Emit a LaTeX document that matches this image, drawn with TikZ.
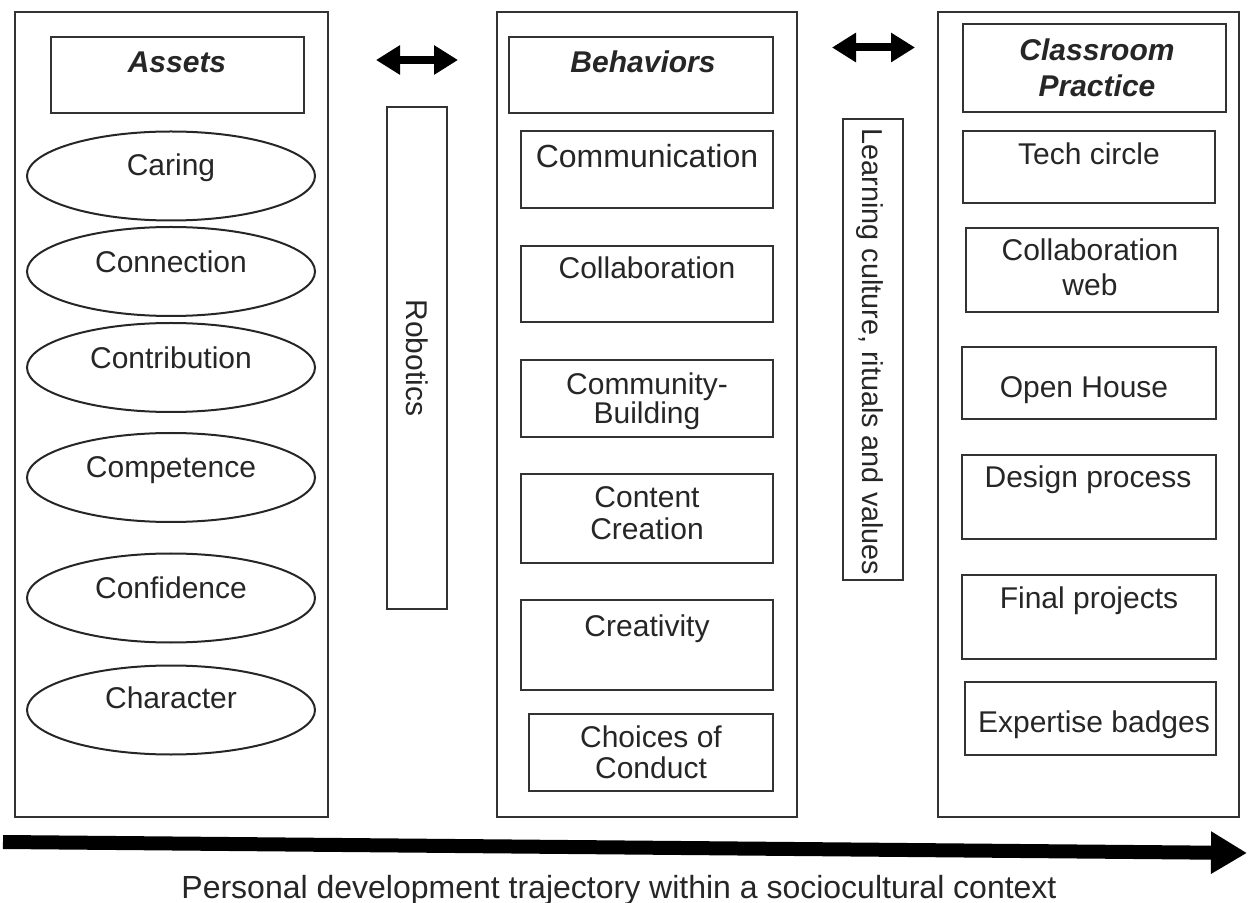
\documentclass[tikz,border=0pt]{standalone}
\usepackage{fontspec}
\setmainfont{Liberation Sans}
\usetikzlibrary{fit,shapes.geometric,arrows.meta}
\tikzset{
  bx/.style={draw=black!80, line width=1.1pt, inner sep=0pt},
  ell/.style={ellipse, draw=black!85, line width=1pt, minimum width=144pt, minimum height=44.5pt, inner sep=0pt},
  tx/.style={font=\fontsize{15}{18}\selectfont, text height=10.7pt, text depth=0pt, inner sep=0pt, text=black!85},
  ttl/.style={font=\fontsize{15}{18}\selectfont\bfseries\itshape, text height=10.7pt, text depth=0pt, inner sep=0pt, text=black!85},
  dbl/.style={line width=4pt, draw=black, {Triangle[length=12pt,width=14pt]}-{Triangle[length=12pt,width=14pt]}},
  bigarrow/.style={line width=7pt, draw=black, -{Triangle[length=18pt,width=20pt]}}
}
\begin{document}
\begin{tikzpicture}[x=0.5pt,y=-0.5pt]
\useasboundingbox (0,0) rectangle (1248,903);
% panels
\node[bx, fit={(15,12) (328,817)}] (P1) {};
\node[bx, fit={(497,12) (797,817)}] (P2) {};
\node[bx, fit={(938,12) (1239,817)}] (P3) {};
% titles
\node[bx, fit={(51,37) (304,113)}] (T1) {};
\node[ttl] at (177,62) {Assets};
\node[bx, fit={(509,37) (773,113)}] (T2) {};
\node[ttl] at (643,62) {Behaviors};
\node[bx, fit={(963,24) (1226,112)}] (T3) {};
\node[ttl] at (1097,50) {Classroom};
\node[ttl] at (1097,86) {Practice};
% assets ellipses
\node[ell] (E1) at (171,176) {};
\node[tx] at (171,165) {Caring};
\node[ell] (E2) at (171,271.5) {};
\node[tx] at (171,262) {Connection};
\node[ell] (E3) at (171,367.5) {};
\node[tx] at (171,358) {Contribution};
\node[ell] (E4) at (171,477.5) {};
\node[tx] at (171,467) {Competence};
\node[ell] (E5) at (171,598) {};
\node[tx] at (171,588) {Confidence};
\node[ell] (E6) at (171,710) {};
\node[tx] at (171,698) {Character};
% robotics
\node[bx, fit={(387,107) (447,609)}] (R) {};
\node[tx, rotate=-90] at (417,358) {Robotics};
% behaviors
\node[bx, fit={(521,131) (773,208)}] (B1) {};
\node[tx, font=\fontsize{16}{19}\selectfont, text height=11.4pt] at (647,156) {Communication};
\node[bx, fit={(521,246) (773,322)}] (B2) {};
\node[tx] at (647,268) {Collaboration};
\node[bx, fit={(521,360) (773,437)}] (B3) {};
\node[tx] at (647,384) {Community-};
\node[tx] at (647,413) {Building};
\node[bx, fit={(521,474) (773,563)}] (B4) {};
\node[tx] at (647,497) {Content};
\node[tx] at (647,529) {Creation};
\node[bx, fit={(521,600) (773,690)}] (B5) {};
\node[tx] at (647,626) {Creativity};
\node[bx, fit={(529,714) (773,791)}] (B6) {};
\node[tx] at (651,737) {Choices of};
\node[tx] at (651,768) {Conduct};
% learning culture
\node[bx, fit={(843,119) (903,580)}] (L) {};
\node[tx, font=\fontsize{14.4}{17}\selectfont, text height=10.3pt, rotate=-90] at (873,352) {Learning culture, rituals and values};
% classroom practice
\node[bx, fit={(963,131) (1215,203)}] (C1) {};
\node[tx] at (1089,154) {Tech circle};
\node[bx, fit={(966,228) (1218,312)}] (C2) {};
\node[tx] at (1090,250) {Collaboration};
\node[tx] at (1090,285) {web};
\node[bx, fit={(962,347) (1216,419)}] (C3) {};
\node[tx] at (1084,387) {Open House};
\node[bx, fit={(962,455) (1216,539)}] (C4) {};
\node[tx] at (1088,477) {Design process};
\node[bx, fit={(962,575) (1216,659)}] (C5) {};
\node[tx] at (1089,598) {Final projects};
\node[bx, fit={(965,682) (1216,755)}] (C6) {};
\node[tx] at (1094,722) {Expertise badges};
% double arrows
\coordinate (a1l) at (376,60);
\coordinate (a1r) at (458,60);
\draw[dbl] (a1l) -- (a1r);
\coordinate (a2l) at (832,47.5);
\coordinate (a2r) at (915,47.5);
\draw[dbl] (a2l) -- (a2r);
% bottom arrow
\coordinate (bs) at (3,842);
\coordinate (be) at (1247,853);
\draw[bigarrow] (bs) -- (be);
\node[font=\fontsize{16}{19}\selectfont, text height=11.4pt, text depth=0pt, inner sep=0pt, text=black!85] (cap) at (619,887) {Personal development trajectory within a sociocultural context};
\end{tikzpicture}
\end{document}
